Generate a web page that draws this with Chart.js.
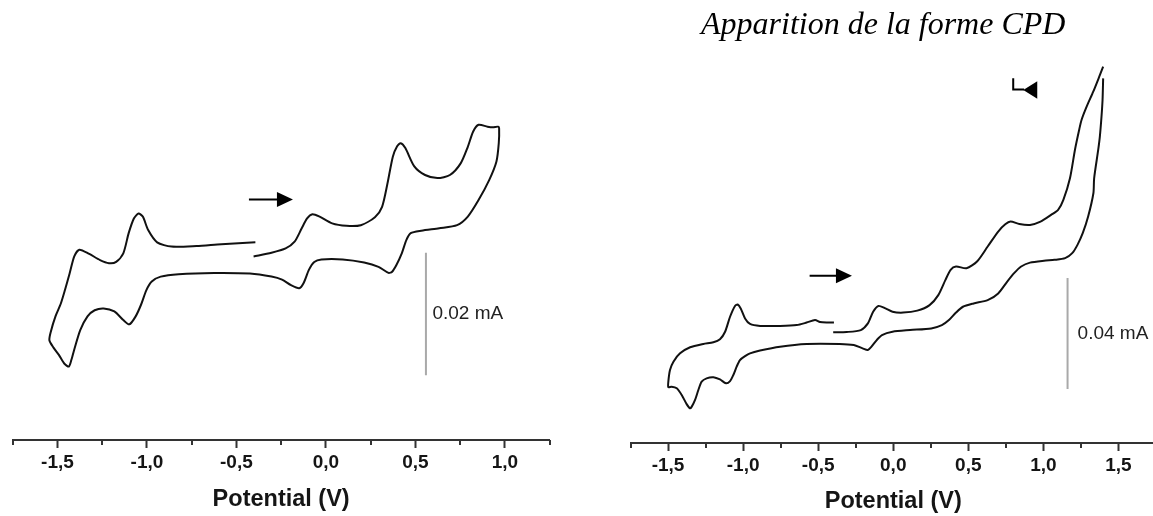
<!DOCTYPE html>
<html>
<head>
<meta charset="utf-8">
<script src="https://cdn.jsdelivr.net/npm/chart.js@4.4.1/dist/chart.umd.min.js"></script>
<style>
  html, body { margin: 0; padding: 0; background: #fff; overflow: hidden; }
  body { width: 1153px; height: 516px; position: relative; }
  canvas { position: absolute; top: 0; }
  #leftChart { left: 0; }
  #rightChart { left: 576px; }
</style>
</head>
<body>
<canvas id="leftChart" width="576" height="516"></canvas>
<canvas id="rightChart" width="584" height="516"></canvas>
<script>
// ================= DATA =================
// potential in V, current in µA (scan: -0.4 V -> anodic vertex -> cathodic vertex -> -0.4 V)
const leftPotential = [
  -0.404, -0.304, -0.225, -0.175, -0.135, -0.105, -0.075, -0.035, 0.035, 0.115,
  0.195, 0.274, 0.314, 0.344, 0.374, 0.398, 0.418, 0.444, 0.494, 0.554,
  0.623, 0.693, 0.753, 0.793, 0.823, 0.853, 0.903, 0.933, 0.963,
  0.968, 0.966, 0.953, 0.913, 0.853, 0.793, 0.733, 0.633, 0.533, 0.474,
  0.450, 0.424, 0.394, 0.370, 0.350, 0.294, 0.214, 0.094, -0.025, -0.065,
  -0.095, -0.125, -0.149, -0.195, -0.245, -0.304, -0.424, -0.624, -0.823, -0.923,
  -0.973, -1.003, -1.033, -1.063, -1.098, -1.132, -1.182, -1.242, -1.292, -1.332,
  -1.372, -1.402, -1.422, -1.436, -1.462, -1.492, -1.522, -1.545,
  -1.537, -1.511, -1.481, -1.458, -1.432, -1.406, -1.378, -1.322, -1.262, -1.212,
  -1.172, -1.132, -1.102, -1.073, -1.047, -1.023, -0.993, -0.943, -0.863, -0.723,
  -0.584, -0.394
];
const leftCurrent = [
  10.0, 10.6, 11.3, 12.4, 14.6, 16.2, 16.9, 16.5, 15.4, 15.0,
  15.1, 16.4, 18.1, 21.9, 26.3, 28.0, 28.5, 27.7, 24.7, 23.3,
  22.8, 23.3, 25.2, 27.9, 30.4, 31.5, 31.2, 31.1, 31.2,
  30.9, 28.5, 25.5, 22.5, 19.2, 16.5, 15.1, 14.6, 14.2, 13.8,
  12.7, 10.5, 8.6, 7.5, 7.3, 8.3, 9.0, 9.5, 9.5, 9.1,
  7.8, 5.6, 4.8, 5.3, 6.2, 6.7, 7.2, 7.3, 7.1, 6.7,
  5.9, 4.5, 2.1, 0.2, -1.1, -0.4, 1.0, 1.5, 1.2, 0.2,
  -2.0, -4.8, -6.9, -8.0, -7.5, -6.1, -4.9, -3.7,
  -2.3, 0.2, 2.3, 4.5, 7.2, 10.0, 11.1, 10.4, 9.4, 8.9,
  9.1, 10.5, 13.8, 16.2, 17.0, 16.5, 14.3, 12.3, 11.6, 11.7,
  12.0, 12.3
];

// the recorder leaves a short break at the anodic vertex (null current)
const rightPotential = [
  -0.400, -0.310, -0.216, -0.169, -0.134, -0.099, -0.052, -0.005, 0.066, 0.160,
  0.242, 0.300, 0.347, 0.382, 0.418, 0.488, 0.558, 0.629, 0.699, 0.746,
  0.781, 0.840, 0.911, 0.981, 1.051, 1.098, 1.133, 1.177, 1.210, 1.238,
  1.254, 1.288, 1.332, 1.372, 1.398, 1.398,
  1.398, 1.394, 1.387, 1.376, 1.365, 1.338, 1.333, 1.298, 1.262, 1.227,
  1.192, 1.145, 1.074, 1.004, 0.911, 0.852, 0.805, 0.758, 0.699, 0.629,
  0.535, 0.464, 0.418, 0.371, 0.324, 0.253, 0.112, -0.005, -0.075, -0.110,
  -0.145, -0.169, -0.204, -0.263, -0.357, -0.577, -0.754, -0.887, -0.954, -0.987,
  -1.021, -1.043, -1.065, -1.087, -1.114, -1.154, -1.198, -1.243, -1.276, -1.298,
  -1.320, -1.342, -1.354, -1.376, -1.409, -1.442, -1.476, -1.498,
  -1.498, -1.487, -1.464, -1.420, -1.353, -1.265, -1.198, -1.154, -1.120, -1.087,
  -1.054, -1.036, -1.016, -0.987, -0.954, -0.887, -0.754, -0.643, -0.577, -0.521,
  -0.488, -0.444, -0.395
];
const rightCurrent = [
  -0.1, 0.0, 0.7, 3.1, 7.3, 9.4, 8.5, 7.3, 7.0, 7.7,
  9.7, 13.3, 18.7, 22.4, 23.6, 23.0, 25.4, 30.8, 36.2, 38.8,
  39.8, 38.9, 38.6, 39.8, 42.2, 44.0, 47.6, 55.4, 65.6, 72.8,
  76.4, 81.2, 86.6, 92.0, 95.6, null,
  91.4, 83.6, 77.6, 70.4, 65.6, 55.4, 50.0, 41.6, 35.6, 31.4,
  28.4, 26.6, 26.0, 25.7, 25.0, 23.6, 21.2, 18.1, 13.9, 11.5,
  10.3, 9.1, 7.0, 4.3, 2.5, 1.3, 0.7, 0.1, -1.1, -2.9,
  -5.3, -6.5, -5.9, -4.7, -4.3, -4.3, -5.3, -6.7, -7.7, -8.7,
  -10.1, -12.5, -15.5, -17.7, -18.5, -17.1, -16.3, -16.7, -17.9, -20.9,
  -24.5, -26.9, -27.5, -26.0, -22.7, -20.3, -19.7, -19.9,
  -17.9, -13.7, -10.7, -7.7, -5.5, -4.3, -3.7, -2.6, 0.1, 5.5,
  9.4, 9.9, 8.5, 4.9, 2.9, 2.2, 2.2, 2.5, 3.4, 4.3,
  3.6, 3.4, 3.4
];

// axis ranges (V) and hidden current ranges (µA)
const leftRange = [-1.75, 1.25];
const rightRange = [-1.75, 1.75];
const leftCurrentRange = [-20, 50];
const rightCurrentRange = [-40, 100];

// ================= HELPERS =================
function isMajor(v) {
  return Math.abs(v * 2 - Math.round(v * 2)) < 1e-6;
}

function formatTick(v) {
  return isMajor(v) ? v.toFixed(1).replace(".", ",") : "";
}

function toPoints(xs, ys) {
  return xs.map((x, i) => ({ x: x, y: ys[i] }));
}

// minor ticks, arrows, scale bar label, title
function makeOverlay(cfg) {
  return {
    id: "overlay",
    afterDraw(chart) {
      const { ctx, chartArea } = chart;
      const xs = chart.scales.x, ys = chart.scales.y;
      const px = v => xs.getPixelForValue(v);
      const py = v => ys.getPixelForValue(v);
      ctx.save();

      ctx.strokeStyle = "#333";
      ctx.lineWidth = 2;
      xs.ticks.forEach(t => {
        if (isMajor(t.value)) return;
        const x = Math.round(px(t.value));
        ctx.beginPath();
        ctx.moveTo(x, chartArea.bottom);
        ctx.lineTo(x, chartArea.bottom + 5);
        ctx.stroke();
      });

      ctx.strokeStyle = "#000";
      ctx.fillStyle = "#000";
      cfg.arrows.forEach(a => {
        ctx.lineWidth = 2;
        ctx.beginPath();
        a.line.forEach((p, i) => {
          if (i === 0) ctx.moveTo(px(p[0]), py(p[1]));
          else ctx.lineTo(px(p[0]), py(p[1]));
        });
        ctx.stroke();
        const tx = px(a.tip[0]), ty = py(a.tip[1]);
        const d = a.dir === "left" ? -1 : 1;
        ctx.beginPath();
        ctx.moveTo(tx, ty);
        ctx.lineTo(tx - d * a.len, ty - a.half);
        ctx.lineTo(tx - d * a.len, ty + a.half);
        ctx.closePath();
        ctx.fill();
      });

      const bar = cfg.bar;
      ctx.font = '19px "Liberation Sans"';
      ctx.fillStyle = "#222";
      ctx.textAlign = "left";
      ctx.textBaseline = "middle";
      ctx.fillText(bar.label, px(bar.potential) + cfg.barGap, py(bar.from + bar.size / 2));

      if (cfg.title) {
        ctx.font = 'italic 32px "Liberation Serif"';
        ctx.fillStyle = "#000";
        ctx.textBaseline = "alphabetic";
        ctx.fillText(cfg.title, cfg.titleX, cfg.titleY);
      }
      ctx.restore();
    }
  };
}

function makeChart(id, cfg) {
  const bar = cfg.bar;
  return new Chart(document.getElementById(id), {
    type: "scatter",
    data: {
      datasets: [
        {
          data: toPoints(cfg.potential, cfg.current),
          showLine: true,
          spanGaps: false,
          borderColor: "#111",
          borderWidth: 2,
          pointRadius: 0,
          tension: 0.25
        },
        {
          data: toPoints([bar.potential, bar.potential], [bar.from, bar.from + bar.size]),
          showLine: true,
          borderColor: "#a9a9a9",
          borderWidth: 2,
          pointRadius: 0
        }
      ]
    },
    options: {
      responsive: false,
      animation: false,
      events: [],
      layout: { padding: cfg.padding },
      plugins: { legend: { display: false }, tooltip: { enabled: false } },
      scales: {
        x: {
          type: "linear",
          min: cfg.range[0],
          max: cfg.range[1],
          ticks: {
            stepSize: 0.25,
            autoSkip: false,
            maxRotation: 0,
            padding: 3,
            color: "#151515",
            font: { family: "Liberation Sans", size: 19, weight: "bold" },
            callback: v => formatTick(v)
          },
          grid: {
            drawOnChartArea: false,
            drawTicks: true,
            tickLength: 8,
            tickWidth: 2,
            tickColor: c => (c.tick && isMajor(c.tick.value)) ? "#333" : "rgba(0,0,0,0)"
          },
          border: { display: true, color: "#333", width: 2 },
          title: {
            display: true,
            text: "Potential (V)",
            color: "#151515",
            font: { family: "Liberation Sans", size: 23.5, weight: "bold" },
            padding: cfg.titlePadding
          }
        },
        y: {
          display: false,
          min: cfg.yRange[0],
          max: cfg.yRange[1]
        }
      }
    },
    plugins: [makeOverlay(cfg)]
  });
}

// ================= CHARTS =================
window.onload = () => {
  makeChart("leftChart", {
    potential: leftPotential,
    current: leftCurrent,
    range: leftRange,
    yRange: leftCurrentRange,
    padding: { left: 12.7, right: 26.4, top: 11.6, bottom: 0 },
    titlePadding: { top: 8.4, bottom: 2.6 },
    bar: { potential: 0.559, from: -9.4, size: 20, label: "0.02 mA" },
    barGap: 6.5,
    arrows: [
      { line: [[-0.430, 19.3], [-0.250, 19.3]], tip: [-0.184, 19.3], dir: "right", len: 16, half: 7.5 }
    ]
  });

  makeChart("rightChart", {
    potential: rightPotential,
    current: rightCurrent,
    range: rightRange,
    yRange: rightCurrentRange,
    padding: { left: 54.5, right: 4, top: 54.5, bottom: 0 },
    titlePadding: { top: 8, bottom: 0 },
    bar: { potential: 1.161, from: -20.5, size: 40, label: "0.04 mA" },
    barGap: 10,
    arrows: [
      { line: [[-0.557, 20.3], [-0.340, 20.3]], tip: [-0.275, 20.3], dir: "right", len: 16, half: 7.5 },
      { line: [[0.799, 91.4], [0.799, 87.4], [0.872, 87.4]], tip: [0.866, 87.2], dir: "left", len: 14, half: 8.7 }
    ],
    title: "Apparition de la forme CPD",
    titleX: 125,
    titleY: 34
  });
};
</script>
</body>
</html>
